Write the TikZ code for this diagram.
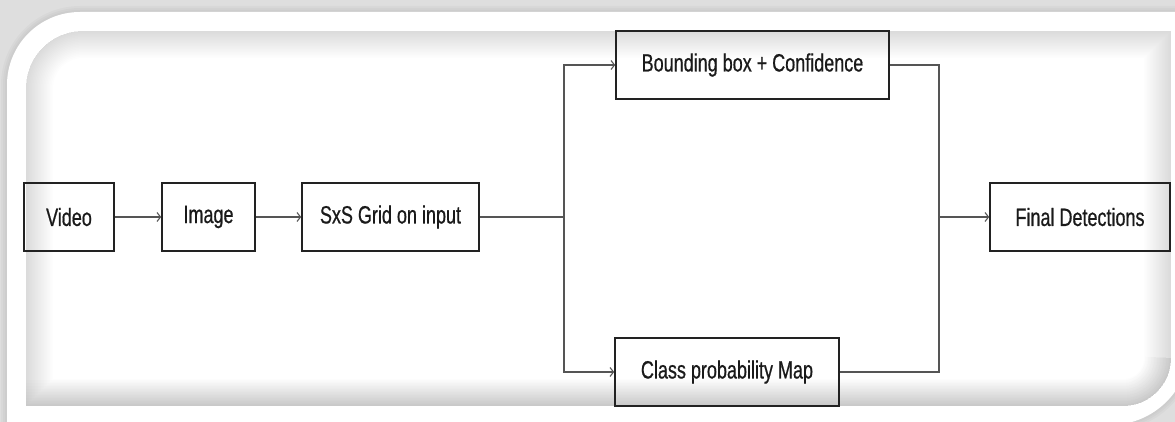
\documentclass[tikz,border=0pt]{standalone}
\usepackage{fontspec}
\setmainfont{Liberation Sans}[FakeStretch=0.72,FakeBold=0.6]
\usetikzlibrary{arrows.meta}
\definecolor{bggray}{HTML}{DEDEDE}
\definecolor{linegray}{HTML}{555555}
\definecolor{boxline}{HTML}{222222}
\definecolor{txt}{HTML}{1A1A1A}
\tikzset{
  stage/.style={draw=boxline, line width=1.6pt, minimum height=68pt, inner sep=0pt,
    text=txt, font=\fontsize{25pt}{29pt}\selectfont},
  conn/.style={draw=linegray, line width=1.5pt},
  arr/.style={conn, -{Straight Barb[length=3.5pt,width=9pt,line width=1.1pt]}}
}
\begin{document}
\begin{tikzpicture}[x=1pt,y=-1pt]
\useasboundingbox (0,0) rectangle (1175,422);
% background
\fill[bggray] (0,0) rectangle (1175,422);
% soft shadow of outer frame
\foreach \w in {12,8,4}{
  \draw[black,opacity=0.025,line width=\w pt] (7,425) -- (7,85) .. controls (7,44.7) and (39.7,12) .. (80,12) -- (1190,12) -- (1190,345) .. controls (1190,389.2) and (1154.2,425) .. (1110,425) -- cycle;
}
% outer white frame
\fill[white] (7,425) -- (7,85) .. controls (7,44.7) and (39.7,12) .. (80,12) -- (1190,12) -- (1190,345) .. controls (1190,389.2) and (1154.2,425) .. (1110,425) -- cycle;
% inner panel with inner shadow
\begin{scope}
\clip (26,406) -- (26,88) .. controls (26,56.5) and (51.5,31) .. (83,31) -- (1171,31) -- (1171,358) .. controls (1171,384.5) and (1149.5,406) .. (1123,406) -- cycle;
\fill[white] (26,31) rectangle (1171,406);
\foreach \w in {3,6,...,54}{
  \draw[black,opacity=0.008,line width=\w pt] (26,406) -- (26,88) .. controls (26,56.5) and (51.5,31) .. (83,31) -- (1171,31) -- (1171,358) .. controls (1171,384.5) and (1149.5,406) .. (1123,406) -- cycle;
}
\foreach \w in {4,10,...,52}{
  \draw[black,opacity=0.006,line width=\w pt] (26,406) -- (1123,406) .. controls (1149.5,406) and (1171,384.5) .. (1171,358);
}
\end{scope}
% nodes
\node[stage, minimum width=90pt]  (video) at (69,217) {Video};
\node[stage, minimum width=93pt]  (image) at (208.5,217) {Image};
\node[stage, minimum width=177pt] (grid)  at (390.5,217) {SxS Grid on input};
\node[stage, minimum width=273pt] (bbox)  at (752.5,65) {Bounding box + Confidence};
\node[stage, minimum width=224pt] (cls)   at (727,372) {Class probability Map};
\node[stage, minimum width=180pt] (final) at (1080,217) {Final Detections};
\coordinate (split) at (564,217);
\coordinate (merge) at (939,217);
% connectors
\draw[arr] (video) -- (image);
\draw[arr] (image) -- (grid);
\draw[conn] (grid) -- (split);
\draw[arr] (split) |- (bbox);
\draw[arr] (split) |- (cls);
\draw[conn] (bbox) -| (merge);
\draw[conn] (cls) -| (merge);
\draw[arr] (merge) -- (final);
\end{tikzpicture}
\end{document}
